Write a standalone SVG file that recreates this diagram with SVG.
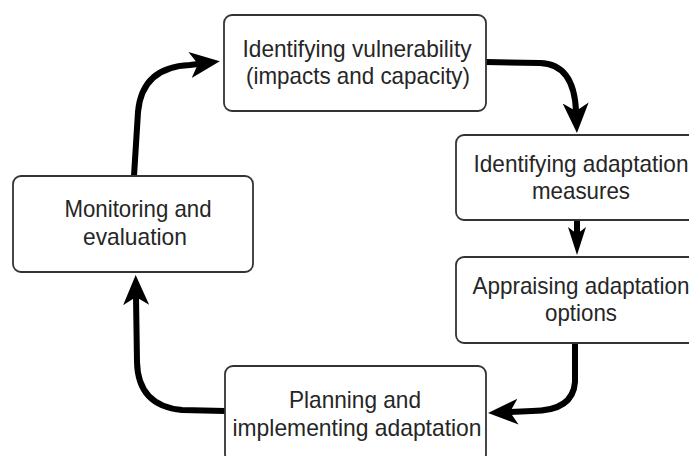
<svg xmlns="http://www.w3.org/2000/svg" width="689" height="456" viewBox="0 0 689 456">
<style>
.box{fill:#fff;stroke:#333;stroke-width:1.8}
.lbl{font-family:"Liberation Sans",Arial,sans-serif;font-size:24px;fill:#262626;text-anchor:middle}
.con{fill:none;stroke:#000;stroke-width:6}
</style>
<defs>
<marker id="ah" markerUnits="userSpaceOnUse" markerWidth="32" markerHeight="28" refX="8" refY="13" orient="auto" viewBox="0 0 32 26">
<path d="M0,0 L30,13 L0,26 L8,13 Z" fill="#000"/>
</marker>
<marker id="ahs" markerUnits="userSpaceOnUse" markerWidth="30" markerHeight="20" refX="7" refY="9" orient="auto" viewBox="0 0 30 18">
<path d="M0,0 L28,9 L0,18 L7,9 Z" fill="#000"/>
</marker>
</defs>
<rect width="689" height="456" fill="#fff"/>
<g id="connectors">
<path class="con" d="M134,176 L138,112 Q142,67 190,65 L198,64" marker-end="url(#ah)"/>
<path class="con" d="M486,62 L540,63 Q574,64 576,111" marker-end="url(#ah)"/>
<path class="con" d="M577,220 L577,234" marker-end="url(#ahs)"/>
<path class="con" d="M575,343 L575,382 Q573,411 532,411 L510,412" marker-end="url(#ah)"/>
<path class="con" d="M225,411 L182,410 Q138,406 137,362 L136,297" marker-end="url(#ah)"/>
</g>
<g id="node-vulnerability">
<rect class="box" x="224" y="15" width="262" height="96" rx="8"/>
<text class="lbl" x="357" y="57" textLength="229" lengthAdjust="spacingAndGlyphs">Identifying vulnerability</text>
<text class="lbl" x="358" y="84" textLength="224" lengthAdjust="spacingAndGlyphs">(impacts and capacity)</text>
</g>
<g id="node-measures">
<rect class="box" x="456" y="135" width="250" height="85" rx="8"/>
<text class="lbl" x="581" y="172" textLength="215" lengthAdjust="spacingAndGlyphs">Identifying adaptation</text>
<text class="lbl" x="581" y="199" textLength="98" lengthAdjust="spacingAndGlyphs">measures</text>
</g>
<g id="node-options">
<rect class="box" x="456" y="257" width="250" height="86" rx="8"/>
<text class="lbl" x="581" y="294" textLength="217" lengthAdjust="spacingAndGlyphs">Appraising adaptation</text>
<text class="lbl" x="581" y="321" textLength="72" lengthAdjust="spacingAndGlyphs">options</text>
</g>
<g id="node-planning">
<rect class="box" x="225" y="366" width="261" height="96" rx="8"/>
<text class="lbl" x="355" y="408" textLength="132" lengthAdjust="spacingAndGlyphs">Planning and</text>
<text class="lbl" x="357" y="436" textLength="249" lengthAdjust="spacingAndGlyphs">implementing adaptation</text>
</g>
<g id="node-monitoring">
<rect class="box" x="13" y="176" width="240" height="96" rx="8"/>
<text class="lbl" x="138" y="217" textLength="147" lengthAdjust="spacingAndGlyphs">Monitoring and</text>
<text class="lbl" x="135" y="245" textLength="104" lengthAdjust="spacingAndGlyphs">evaluation</text>
</g>
</svg>
